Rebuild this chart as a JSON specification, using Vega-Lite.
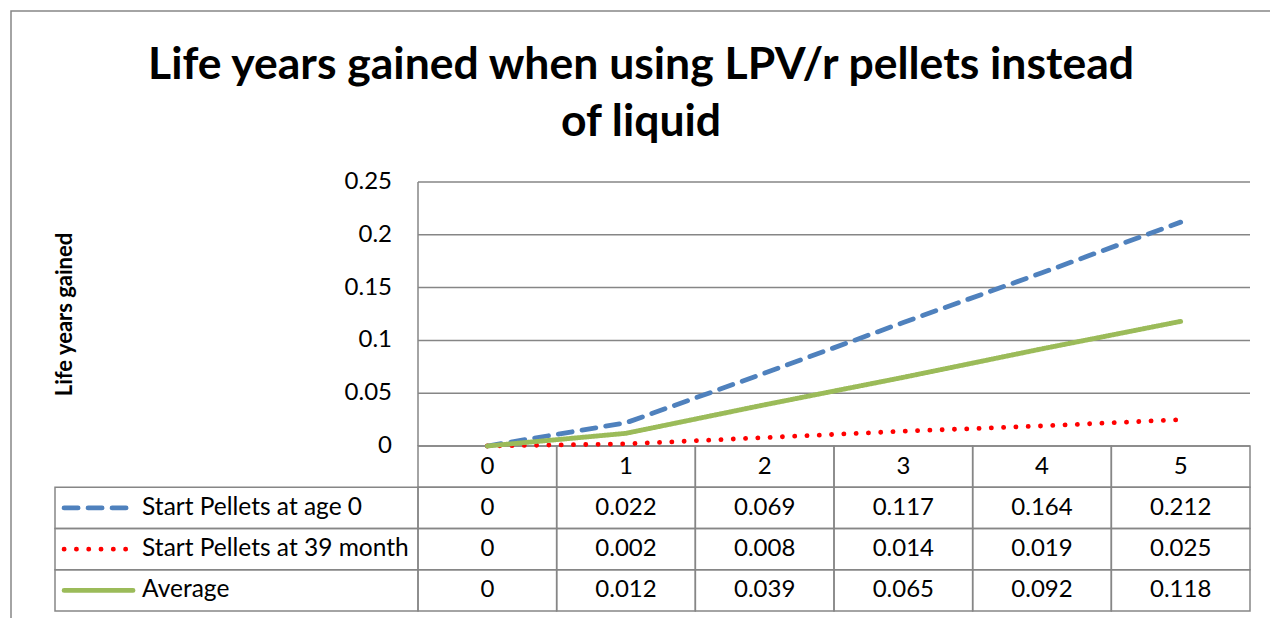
{
  "$schema": "https://vega.github.io/schema/vega-lite/v6.json",
  "width": 1260,
  "height": 608,
  "autosize": {"type": "none"},
  "padding": {"left": 11, "top": 11, "right": 0, "bottom": 0},
  "background": "white",
  "config": {
    "view": {"stroke": "#868686", "strokeWidth": 1.5},
    "font": "Lato",
    "text": {"font": "Lato", "color": "#000000"}
  },
  "title": {
    "text": ["Life years gained when using LPV/r pellets instead", "of liquid"],
    "font": "Lato",
    "fontSize": 44.5,
    "fontWeight": "bold",
    "color": "#000000",
    "anchor": "middle",
    "frame": "group",
    "offset": -134,
    "lineHeight": 57
  },
  "datasets": {
    "lines": [
      {"year": 0, "series": "Start Pellets at age 0", "value": 0},
      {"year": 1, "series": "Start Pellets at age 0", "value": 0.022},
      {"year": 2, "series": "Start Pellets at age 0", "value": 0.069},
      {"year": 3, "series": "Start Pellets at age 0", "value": 0.117},
      {"year": 4, "series": "Start Pellets at age 0", "value": 0.164},
      {"year": 5, "series": "Start Pellets at age 0", "value": 0.212},
      {"year": 0, "series": "Start Pellets at 39 month", "value": 0},
      {"year": 1, "series": "Start Pellets at 39 month", "value": 0.002},
      {"year": 2, "series": "Start Pellets at 39 month", "value": 0.008},
      {"year": 3, "series": "Start Pellets at 39 month", "value": 0.014},
      {"year": 4, "series": "Start Pellets at 39 month", "value": 0.019},
      {"year": 5, "series": "Start Pellets at 39 month", "value": 0.025},
      {"year": 0, "series": "Average", "value": 0},
      {"year": 1, "series": "Average", "value": 0.012},
      {"year": 2, "series": "Average", "value": 0.039},
      {"year": 3, "series": "Average", "value": 0.065},
      {"year": 4, "series": "Average", "value": 0.092},
      {"year": 5, "series": "Average", "value": 0.118}
    ],
    "ticks": [
      {"tick": 0}, {"tick": 0.05}, {"tick": 0.1}, {"tick": 0.15}, {"tick": 0.2}, {"tick": 0.25}
    ]
  },
  "layer": [
    {
      "layer": [
        {
          "data": {"name": "lines"},
          "transform": [{"filter": "datum.series === 'Average'"}],
          "mark": {"type": "rect", "fill": "#ffffff", "fillOpacity": 0, "stroke": "#868686", "strokeWidth": 1.5},
          "encoding": {
            "x": {"field": "year", "type": "ordinal", "scale": {"domain": [0, 1, 2, 3, 4, 5], "range": [407, 1239], "paddingInner": 0, "paddingOuter": 0}, "axis": null},
            "y": {"datum": "hdr", "type": "nominal", "scale": {"domain": ["hdr", "Start Pellets at age 0", "Start Pellets at 39 month", "Average"], "range": [435, 600], "paddingInner": 0, "paddingOuter": 0}, "axis": null}
          }
        },
        {
          "data": {"name": "lines"},
          "mark": {"type": "rect", "fill": "#ffffff", "fillOpacity": 0, "stroke": "#868686", "strokeWidth": 1.5},
          "encoding": {
            "x": {"field": "year", "type": "ordinal", "scale": {"domain": [0, 1, 2, 3, 4, 5], "range": [407, 1239], "paddingInner": 0, "paddingOuter": 0}, "axis": null},
            "y": {"field": "series", "type": "nominal", "scale": {"domain": ["hdr", "Start Pellets at age 0", "Start Pellets at 39 month", "Average"], "range": [435, 600], "paddingInner": 0, "paddingOuter": 0}, "axis": null}
          }
        },
        {
          "data": {"name": "lines"},
          "transform": [{"filter": "datum.series === 'Average'"}],
          "mark": {"type": "text", "fontSize": 24, "baseline": "middle", "color": "#000000"},
          "encoding": {
            "x": {"field": "year", "type": "ordinal", "scale": {"domain": [0, 1, 2, 3, 4, 5], "range": [407, 1239], "paddingInner": 0, "paddingOuter": 0}, "axis": null},
            "y": {"datum": "hdr", "type": "nominal", "scale": {"domain": ["hdr", "Start Pellets at age 0", "Start Pellets at 39 month", "Average"], "range": [435, 600], "paddingInner": 0, "paddingOuter": 0}, "axis": null},
            "text": {"field": "year", "type": "ordinal"}
          }
        },
        {
          "data": {"name": "lines"},
          "mark": {"type": "text", "fontSize": 24, "baseline": "middle", "color": "#000000"},
          "encoding": {
            "x": {"field": "year", "type": "ordinal", "scale": {"domain": [0, 1, 2, 3, 4, 5], "range": [407, 1239], "paddingInner": 0, "paddingOuter": 0}, "axis": null},
            "y": {"field": "series", "type": "nominal", "scale": {"domain": ["hdr", "Start Pellets at age 0", "Start Pellets at 39 month", "Average"], "range": [435, 600], "paddingInner": 0, "paddingOuter": 0}, "axis": null},
            "text": {"field": "value", "type": "quantitative", "format": ".3~f"}
          }
        }
      ]
    },
    {
      "layer": [
        {
          "data": {"name": "lines"},
          "transform": [{"filter": "datum.year === 0"}],
          "mark": {"type": "rect", "fill": "#ffffff", "fillOpacity": 0, "stroke": "#868686", "strokeWidth": 1.5},
          "encoding": {
            "x": {"datum": 0, "type": "quantitative", "scale": {"domain": [0, 1], "range": [44, 407], "nice": false, "zero": false}, "axis": null},
            "x2": {"datum": 1},
            "y": {"field": "series", "type": "nominal", "scale": {"domain": ["hdr", "Start Pellets at age 0", "Start Pellets at 39 month", "Average"], "range": [435, 600], "paddingInner": 0, "paddingOuter": 0}, "axis": null}
          }
        },
        {
          "data": {"name": "lines"},
          "transform": [{"filter": "datum.year === 0"}],
          "mark": {"type": "rule", "strokeWidth": 4.8, "strokeCap": "round"},
          "encoding": {
            "x": {"datum": 0.025, "type": "quantitative", "scale": {"domain": [0, 1], "range": [44, 407], "nice": false, "zero": false}, "axis": null},
            "x2": {"datum": 0.215},
            "y": {"field": "series", "type": "nominal", "scale": {"domain": ["hdr", "Start Pellets at age 0", "Start Pellets at 39 month", "Average"], "range": [435, 600], "paddingInner": 0, "paddingOuter": 0}, "axis": null},
            "color": {"field": "series", "type": "nominal", "scale": {"domain": ["Start Pellets at age 0", "Start Pellets at 39 month", "Average"], "range": ["#4F81BD", "#FF0000", "#9BBB59"]}, "legend": null},
            "strokeDash": {"field": "series", "type": "nominal", "scale": {"domain": ["Start Pellets at age 0", "Start Pellets at 39 month", "Average"], "range": [[14, 10], [0.1, 12.2], [1, 0]]}, "legend": null}
          }
        },
        {
          "data": {"name": "lines"},
          "transform": [{"filter": "datum.year === 0"}],
          "mark": {"type": "text", "align": "left", "baseline": "middle", "fontSize": 24.5, "color": "#000000"},
          "encoding": {
            "x": {"datum": 0.24, "type": "quantitative", "scale": {"domain": [0, 1], "range": [44, 407], "nice": false, "zero": false}, "axis": null},
            "y": {"field": "series", "type": "nominal", "scale": {"domain": ["hdr", "Start Pellets at age 0", "Start Pellets at 39 month", "Average"], "range": [435, 600], "paddingInner": 0, "paddingOuter": 0}, "axis": null},
            "text": {"field": "series", "type": "nominal"}
          }
        }
      ]
    },
    {
      "layer": [
        {
          "data": {"name": "ticks"},
          "mark": {"type": "rule", "color": "#868686", "strokeWidth": 1.5},
          "encoding": {
            "x": {"datum": -0.5, "type": "quantitative", "scale": {"domain": [-0.5, 5.5], "range": [407, 1239], "nice": false, "zero": false}, "axis": null},
            "x2": {"datum": 5.5},
            "y": {"field": "tick", "type": "quantitative", "scale": {"domain": [0, 0.25], "range": [435, 171], "nice": false, "zero": false}, "axis": {"title": "Life years  gained", "labels": false, "ticks": false, "domain": false, "grid": false, "titleX": 60, "titleBaseline": "alphabetic", "titleFont": "Lato", "titleFontSize": 22, "titleFontWeight": "bold", "titleColor": "#000000"}}
          }
        },
        {
          "data": {"name": "ticks"},
          "mark": {"type": "rule", "color": "#868686", "strokeWidth": 1.5},
          "encoding": {
            "x": {"datum": -0.5, "type": "quantitative", "scale": {"domain": [-0.5, 5.5], "range": [407, 1239], "nice": false, "zero": false}, "axis": null},
            "y": {"aggregate": "min", "field": "tick", "type": "quantitative"},
            "y2": {"aggregate": "max", "field": "tick"}
          }
        },
        {
          "data": {"name": "ticks"},
          "mark": {"type": "text", "align": "right", "baseline": "middle", "dx": -26, "fontSize": 24, "color": "#000000"},
          "encoding": {
            "x": {"datum": -0.5, "type": "quantitative", "scale": {"domain": [-0.5, 5.5], "range": [407, 1239], "nice": false, "zero": false}, "axis": null},
            "y": {"field": "tick", "type": "quantitative"},
            "text": {"field": "tick", "type": "quantitative", "format": "~g"}
          }
        },
        {
          "data": {"name": "lines"},
          "mark": {"type": "line", "strokeWidth": 4.8, "strokeCap": "round", "strokeJoin": "round"},
          "encoding": {
            "x": {"field": "year", "type": "quantitative", "scale": {"domain": [-0.5, 5.5], "range": [407, 1239], "nice": false, "zero": false}, "axis": null},
            "y": {"field": "value", "type": "quantitative"},
            "color": {"field": "series", "type": "nominal", "legend": null},
            "strokeDash": {"field": "series", "type": "nominal", "legend": null}
          }
        }
      ]
    }
  ],
  "resolve": {"scale": {"x": "independent", "y": "independent"}}
}
